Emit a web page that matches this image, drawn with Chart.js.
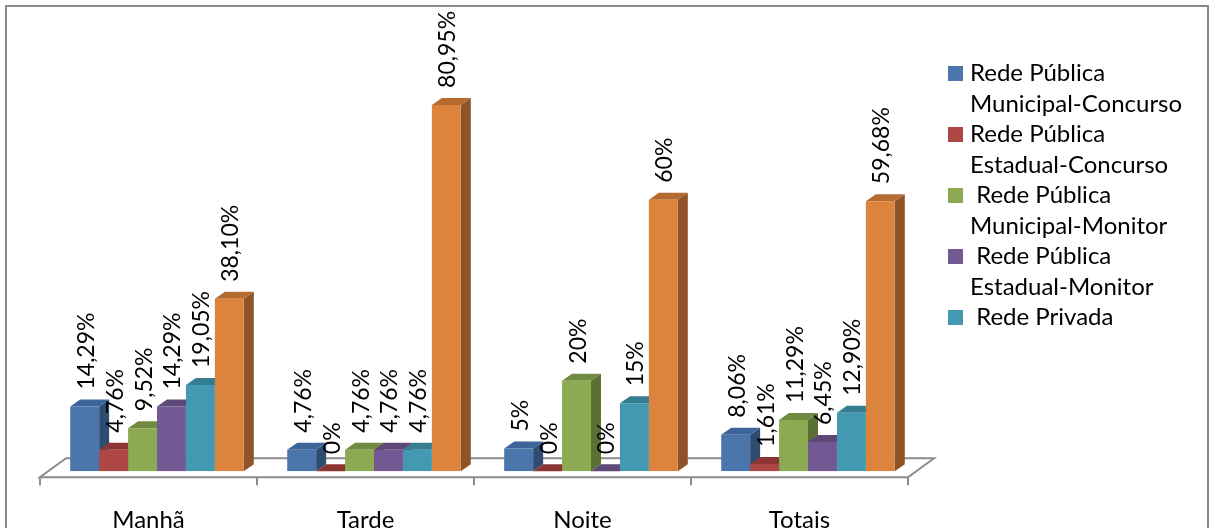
<!DOCTYPE html>
<html>
<head>
<meta charset="utf-8">
<script src="https://cdn.jsdelivr.net/npm/chart.js@4.4.1/dist/chart.umd.min.js"></script>
<style>
  html, body { margin: 0; padding: 0; background: #ffffff; overflow: hidden; width: 1210px; height: 528px; }
  #frame { position: absolute; left: 5px; top: 5px; width: 1200px; height: 620px; border: 2px solid #8a8a8a; box-sizing: content-box; }
  #c { position: absolute; left: 0; top: 0; }
</style>
</head>
<body>
<div id="frame"></div>
<canvas id="c" width="1210" height="580"></canvas>
<script>
// ---- data ----
const categories = ['Manhã', 'Tarde', 'Noite', 'Totais'];
const munConcurso = [14.29, 4.76, 5, 8.06];
const estConcurso = [4.76, 0, 0, 1.61];
const munMonitor  = [9.52, 4.76, 20, 11.29];
const estMonitor  = [14.29, 4.76, 0, 6.45];
const privada     = [19.05, 4.76, 15, 12.90];
const outros      = [38.10, 80.95, 60, 59.68];
const seriesNames = [
  ['Rede Pública', 'Municipal-Concurso'],
  ['Rede Pública', 'Estadual-Concurso'],
  [' Rede Pública', 'Municipal-Monitor'],
  [' Rede Pública', 'Estadual-Monitor'],
  [' Rede Privada'],
  ['']
];
const seriesValues = [munConcurso, estConcurso, munMonitor, estMonitor, privada, outros];

// ---- styles ----
const frontColors = ['#4A76AC', '#AE4744', '#8BAA52', '#735993', '#4299B1', '#DC843E'];
const topColors   = ['#3D6498', '#8C3634', '#708A41', '#5D4878', '#357E92', '#B56A30'];
const sideColors  = ['#2E4B70', '#762D2B', '#5B7035', '#4C3B63', '#2B6778', '#8E5428'];
const FONT = 'Lato, "Open Sans", sans-serif';
const DX = 10, DY = -7;

function fmt(v) {
  if (Number.isInteger(v)) return v + '%';
  return v.toFixed(2).replace('.', ',') + '%';
}

function poly(ctx, pts, color) {
  ctx.beginPath();
  ctx.moveTo(pts[0][0], pts[0][1]);
  for (let i = 1; i < pts.length; i++) ctx.lineTo(pts[i][0], pts[i][1]);
  ctx.closePath();
  ctx.fillStyle = color;
  ctx.fill();
}

const bar3d = {
  id: 'bar3d',
  beforeDatasetsDraw(chart) {
    const ctx = chart.ctx;
    const xs = chart.scales.x, ys = chart.scales.y;
    const y0 = ys.getPixelForValue(0);
    const n = categories.length;
    const step = (xs.right - xs.left) / n;
    const fl = xs.left - 8.5, fr = xs.right - 8.5, fy = y0 + 6;
    const bx = 26, by = -19;
    ctx.save();
    // floor outline
    ctx.strokeStyle = '#8c8c8c';
    ctx.lineWidth = 2;
    ctx.beginPath();
    ctx.moveTo(fl, fy); ctx.lineTo(fr, fy);
    ctx.lineTo(fr + bx, fy + by); ctx.lineTo(fl + bx, fy + by); ctx.closePath();
    ctx.stroke();
    ctx.beginPath();
    for (let i = 0; i <= n; i++) {
      const tx = fl + i * step;
      ctx.moveTo(tx, fy); ctx.lineTo(tx, fy + 8);
    }
    ctx.stroke();
    // 3D side and top faces, in series order (front faces drawn by Chart.js afterwards)
    chart.data.datasets.forEach((ds, di) => {
      chart.getDatasetMeta(di).data.forEach(el => {
        const p = el.getProps(['x', 'y', 'base', 'width'], true);
        const l = p.x - p.width / 2, r = p.x + p.width / 2;
        poly(ctx, [[r, p.y], [r + DX, p.y + DY], [r + DX, p.base + DY], [r, p.base]], sideColors[di]);
        poly(ctx, [[l, p.y], [l + DX, p.y + DY], [r + DX, p.y + DY], [r, p.y]], topColors[di]);
      });
    });
    ctx.restore();
  },
  afterDatasetsDraw(chart) {
    const ctx = chart.ctx;
    ctx.save();
    ctx.font = '23px ' + FONT;
    ctx.fillStyle = '#000';
    ctx.textAlign = 'left';
    ctx.textBaseline = 'alphabetic';
    chart.data.datasets.forEach((ds, di) => {
      const meta = chart.getDatasetMeta(di);
      meta.data.forEach((el, i) => {
        const p = el.getProps(['x', 'y'], true);
        ctx.save();
        ctx.translate(p.x + 9, p.y - 17);
        ctx.rotate(-Math.PI / 2);
        ctx.fillText(fmt(ds.data[i]), 0, 0);
        ctx.restore();
      });
    });
    ctx.restore();
  },
  afterDraw(chart) {
    const ctx = chart.ctx;
    ctx.save();
    ctx.font = '24px ' + FONT;
    ctx.textBaseline = 'alphabetic';
    ctx.textAlign = 'left';
    let base = 81;
    const pitch = 30.5;
    for (let s = 0; s < 5; s++) {
      const lines = seriesNames[s];
      ctx.fillStyle = frontColors[s];
      ctx.fillRect(948, base - 15, 15, 15);
      ctx.fillStyle = '#000';
      lines.forEach((t, k) => ctx.fillText(t, 970, base + k * pitch));
      base += lines.length * pitch;
    }
    ctx.restore();
  }
};

const datasets = seriesValues.map((vals, i) => ({
  label: seriesNames[i].join(' ').trim(),
  data: vals,
  backgroundColor: frontColors[i],
  borderWidth: 0,
  categoryPercentage: 0.8,
  barPercentage: 1.0
}));

new Chart(document.getElementById('c'), {
  type: 'bar',
  data: { labels: categories, datasets },
  options: {
    responsive: false,
    animation: false,
    events: [],
    layout: { padding: { left: 48.5, right: 293.5, top: 64, bottom: 10 } },
    plugins: { legend: { display: false }, tooltip: { enabled: false }, title: { display: false } },
    scales: {
      x: {
        grid: { display: false, drawTicks: false },
        border: { display: false },
        ticks: { font: { family: FONT, size: 24 }, color: '#000', padding: 35, labelOffset: -8.5, maxRotation: 0, autoSkip: false }
      },
      y: { display: false, min: 0, max: 90 }
    }
  },
  plugins: [bar3d]
});
</script>
</body>
</html>
